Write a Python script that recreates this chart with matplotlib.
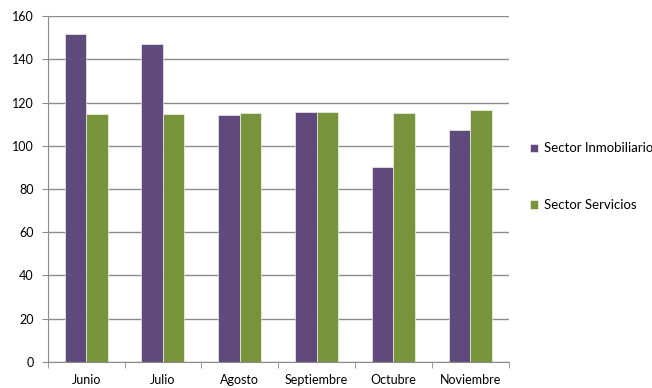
import matplotlib.pyplot as plt
import numpy as np

meses = ["Junio", "Julio", "Agosto", "Septiembre", "Octubre", "Noviembre"]
inmobiliario = [151.6, 147.1, 114.4, 115.8, 90.3, 107.3]
servicios = [114.9, 114.9, 115.3, 115.8, 115.3, 116.4]

purple = "#604a7b"
green = "#77933c"
grid_gray = "#8c8c8c"

plt.rcParams['font.family'] = ['Lato', 'DejaVu Sans']

fig = plt.figure(figsize=(6.52, 3.88), dpi=100)
ax = fig.add_axes([0.0732, 0.0678, 0.7068, 0.8902])

x = np.arange(len(meses))
w = 0.28
ax.bar(x - w / 2, inmobiliario, w, color=purple, label="Sector Inmobiliario",
       edgecolor="white", linewidth=0.4)
ax.bar(x + w / 2, servicios, w, color=green, label="Sector Servicios",
       edgecolor="white", linewidth=0.4)

ax.set_xlim(-0.5, len(meses) - 0.5)
ax.set_ylim(0, 160)
ax.set_yticks(range(0, 161, 20))
ax.yaxis.grid(True, color=grid_gray, linewidth=1)
ax.set_axisbelow(True)

# category labels centred, tick marks on the boundaries
ax.set_xticks(x)
ax.set_xticklabels(meses)
ax.set_xticks(np.arange(-0.5, len(meses), 1), minor=True)
ax.tick_params(axis='x', which='major', length=0, pad=9, labelsize=9)
ax.tick_params(axis='x', which='minor', length=4, color=grid_gray)
ax.tick_params(axis='y', length=4, color=grid_gray, pad=6, labelsize=9)

for s in ["top", "right"]:
    ax.spines[s].set_visible(False)
for s in ["left", "bottom"]:
    ax.spines[s].set_color(grid_gray)

ax.legend(loc="center left", bbox_to_anchor=(1.035, 0.535), frameon=False,
          fontsize=9.5, handlelength=0.6, handleheight=0.6, handletextpad=0.5,
          labelspacing=3.4, borderaxespad=0)

plt.savefig("out.png", dpi=100)
